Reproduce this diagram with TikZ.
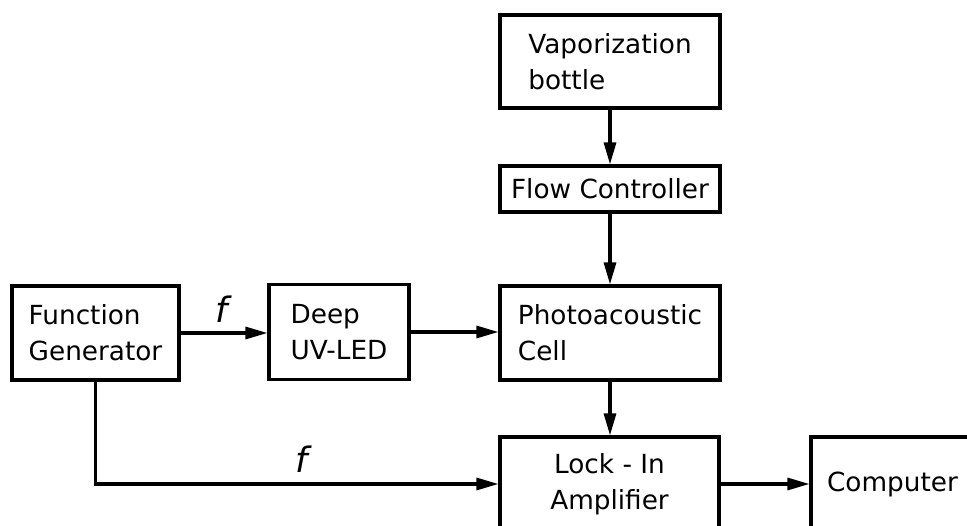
\documentclass[tikz,border=0pt]{standalone}
\usepackage{fontspec}
\setmainfont{DejaVu Sans}
\usetikzlibrary{arrows.meta}
\begin{document}
\begin{tikzpicture}[x=1pt,y=-1pt,
  box/.style={draw, line width=3.1pt, rectangle, inner sep=0pt, align=left,
    font=\fontsize{26.3}{36}\selectfont},
  conn/.style={line width=3.1pt, -{Triangle[length=22pt,width=12pt]}},
  lbl/.style={inner sep=0pt, font=\fontsize{35}{36}\selectfont\itshape}]
\useasboundingbox (0,0) rectangle (967,526);
\clip (0,0) rectangle (967,526);
\node[box, minimum width=220pt, minimum height=93pt] (vap) at (610,61.5) {Vaporization\\bottle};
\node[box, minimum width=220pt, minimum height=46pt] (flow) at (610,189) {Flow Controller};
\node[box, minimum width=220pt, minimum height=94pt] (photo) at (610,333) {Photoacoustic\\Cell};
\node[box, minimum width=167pt, minimum height=94pt] (fg) at (95.5,333) {Function\\Generator};
\node[box, minimum width=140pt, minimum height=95pt] (uv) at (339,332) {Deep\\UV-LED};
\node[box, align=center, minimum width=219pt, minimum height=94pt] (lock) at (609.5,484) {Lock - In\\Amplifier};
\node[box, minimum width=163pt, minimum height=94pt] (comp) at (892.5,484) {Computer};
\node[lbl] (f1) at (222,309) {f};
\node[lbl] (f2) at (302,459) {f};
\draw[conn] (vap.south) -- (flow.north);
\draw[conn] (flow.south) -- (photo.north);
\draw[conn] (photo.south) -- (photo.south |- lock.north);
\draw[conn] (fg.east) -- (fg.east -| uv.west);
\draw[conn] (uv.east) -- (uv.east -| photo.west);
\draw[conn] (fg.south) |- (lock.west);
\draw[conn] (lock.east) -- (comp.west);
\end{tikzpicture}
\end{document}
